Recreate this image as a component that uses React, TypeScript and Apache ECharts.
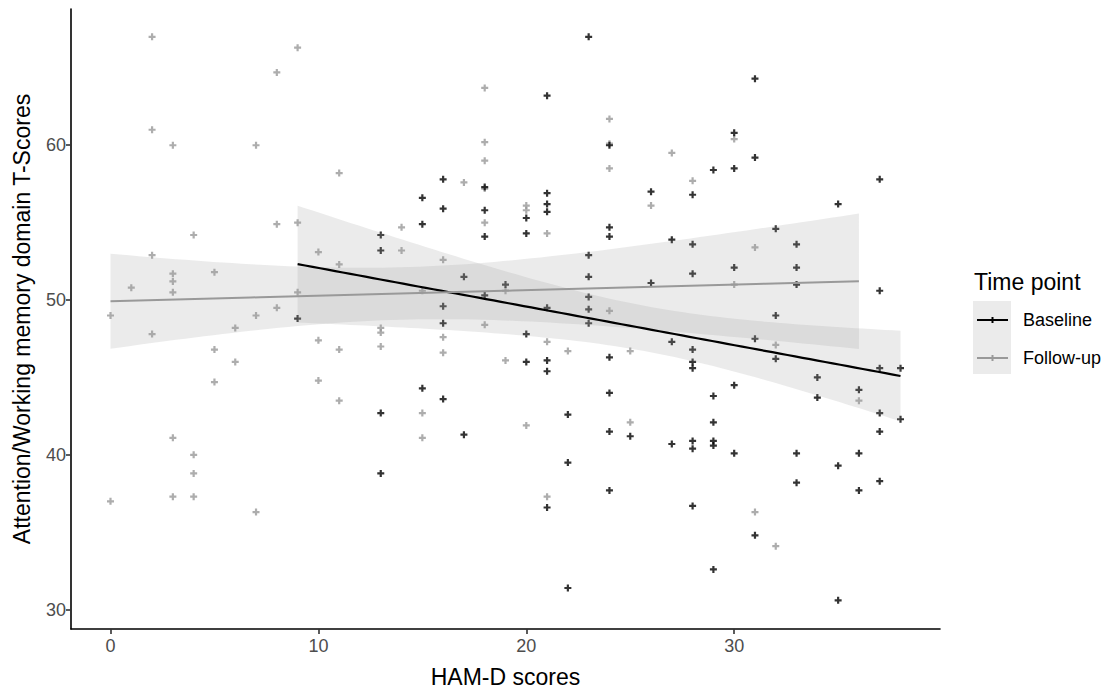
import React, { useEffect, useRef } from "react";
import * as echarts from "echarts";

const xTicks = [0, 10, 20, 30];
const yTicks = [30, 40, 50, 60];
const seriesNames = ["Baseline", "Follow-up"];
const xTitle = "HAM-D scores";
const yTitle = "Attention/Working memory domain T-Scores";
const legendTitle = "Time point";

const baselinePoints: number[][] = [
  [9, 48.8],
  [13, 54.2], [13, 53.2], [13, 42.7], [13, 38.8],
  [15, 56.6], [15, 54.9], [15, 44.3],
  [16, 57.8], [16, 55.9], [16, 49.6], [16, 48.5], [16, 43.6],
  [17, 51.5], [17, 41.3],
  [18, 57.3], [18, 55.8], [18, 54.1], [18, 50.3],
  [19, 51.0],
  [20, 55.3], [20, 54.3], [20, 47.8], [20, 46.0],
  [21, 63.2], [21, 56.9], [21, 56.2], [21, 55.7], [21, 49.5], [21, 46.1], [21, 45.4], [21, 36.6],
  [22, 42.6], [22, 39.5], [22, 31.4],
  [23, 67.0], [23, 52.9], [23, 51.5], [23, 50.2], [23, 49.4], [23, 48.5],
  [24, 60.0], [24, 54.7], [24, 54.1], [24, 46.3], [24, 44.0], [24, 41.5], [24, 37.7],
  [25, 41.2],
  [26, 57.0], [26, 51.1],
  [27, 53.9], [27, 47.3], [27, 40.7],
  [28, 56.8], [28, 53.6], [28, 51.7], [28, 46.8], [28, 46.0], [28, 45.6], [28, 40.9], [28, 40.4], [28, 36.7],
  [29, 58.4], [29, 43.8], [29, 42.1], [29, 40.9], [29, 40.6], [29, 32.6],
  [30, 60.8], [30, 58.5], [30, 52.1], [30, 44.5], [30, 40.1],
  [31, 64.3], [31, 59.2], [31, 47.5], [31, 34.8],
  [32, 54.6], [32, 49.0], [32, 46.2],
  [33, 53.6], [33, 52.1], [33, 51.0], [33, 40.1], [33, 38.2],
  [34, 45.0], [34, 43.7],
  [35, 56.2], [35, 39.3], [35, 30.6],
  [36, 44.2], [36, 40.1], [36, 37.7],
  [37, 57.8], [37, 50.6], [37, 45.6], [37, 42.7], [37, 41.5], [37, 38.3],
  [38, 45.6], [38, 42.3],
];

const followupPoints: number[][] = [
  [0, 49.0], [0, 37.0],
  [1, 50.8],
  [2, 67.0], [2, 61.0], [2, 52.9], [2, 47.8],
  [3, 60.0], [3, 51.7], [3, 51.2], [3, 50.5], [3, 41.1], [3, 37.3],
  [4, 54.2], [4, 40.0], [4, 38.8], [4, 37.3],
  [5, 51.8], [5, 46.8], [5, 44.7],
  [6, 48.2], [6, 46.0],
  [7, 60.0], [7, 49.0], [7, 36.3],
  [8, 64.7], [8, 54.9], [8, 49.5],
  [9, 66.3], [9, 55.0], [9, 50.5],
  [10, 53.1], [10, 47.4], [10, 44.8],
  [11, 58.2], [11, 52.3], [11, 46.8], [11, 43.5],
  [13, 48.2], [13, 47.9], [13, 47.0],
  [14, 54.7], [14, 53.2],
  [15, 50.6], [15, 42.7], [15, 41.1],
  [16, 52.6], [16, 47.6], [16, 46.6],
  [17, 57.6],
  [18, 63.7], [18, 60.2], [18, 59.0], [18, 57.2], [18, 55.0], [18, 48.4],
  [19, 50.6], [19, 46.1],
  [20, 56.1], [20, 55.8], [20, 41.9],
  [21, 54.3], [21, 47.3], [21, 37.3],
  [22, 46.7],
  [24, 61.7], [24, 60.1], [24, 58.5], [24, 49.3],
  [25, 46.7], [25, 42.1],
  [26, 56.1],
  [27, 59.5],
  [28, 57.7],
  [30, 60.4], [30, 51.0],
  [31, 53.4], [31, 36.3],
  [32, 47.1], [32, 34.1],
  [36, 43.5],
];

const PLUS = "path://M2.4,0H4.6V2.4H7V4.6H4.6V7H2.4V4.6H0V2.4H2.4Z";
const FONT = "'Liberation Sans', Arial, sans-serif";
const BLACK = "#000000";
const GREY = "#999999";
const BAND = "rgba(153,153,153,0.2)";

function tQuantile(df: number) {
  const z = 1.959964;
  return (
    z +
    (z ** 3 + z) / (4 * df) +
    (5 * z ** 5 + 16 * z ** 3 + 3 * z) / (96 * df * df)
  );
}

function linearFit(points: number[][]) {
  const n = points.length;
  const mx = points.reduce((s, p) => s + p[0], 0) / n;
  const my = points.reduce((s, p) => s + p[1], 0) / n;
  let sxx = 0, sxy = 0;
  points.forEach((p) => {
    sxx += (p[0] - mx) ** 2;
    sxy += (p[0] - mx) * (p[1] - my);
  });
  const b = sxy / sxx;
  const a = my - b * mx;
  let sse = 0;
  points.forEach((p) => {
    sse += (p[1] - a - b * p[0]) ** 2;
  });
  const s = Math.sqrt(sse / (n - 2));
  const t = tQuantile(n - 2);
  const xs = points.map((p) => p[0]);
  const x0 = Math.min(...xs);
  const x1 = Math.max(...xs);
  const line: number[][] = [];
  const upper: number[][] = [];
  const lower: number[][] = [];
  const steps = 80;
  for (let i = 0; i <= steps; i++) {
    const x = x0 + ((x1 - x0) * i) / steps;
    const y = a + b * x;
    const se = s * Math.sqrt(1 / n + (x - mx) ** 2 / sxx);
    line.push([x, y]);
    upper.push([x, y + t * se]);
    lower.push([x, y - t * se]);
  }
  return { line, upper, lower };
}

function bandSeries(fit: { upper: number[][]; lower: number[][] }) {
  return {
    type: "custom",
    silent: true,
    z: 3,
    data: [[0, 0]],
    renderItem: (_params: any, api: any) => {
      const pts = fit.upper
        .map((p) => api.coord(p))
        .concat(fit.lower.slice().reverse().map((p) => api.coord(p)));
      return {
        type: "polygon",
        shape: { points: pts },
        style: { fill: BAND, stroke: "none" },
      };
    },
  };
}

export default function App() {
  const ref = useRef<HTMLDivElement>(null);

  useEffect(() => {
    if (!ref.current) return;
    const chart = echarts.init(ref.current, undefined, { renderer: "svg" });
    const fitB = linearFit(baselinePoints);
    const fitF = linearFit(followupPoints);

    const axisCommon = {
      type: "value",
      axisLine: { show: true, onZero: false, lineStyle: { color: "#000", width: 1.6 } },
      splitLine: { show: false },
    };

    const plusAt = (cx: number, cy: number, color: string) => [
      { type: "line", shape: { x1: cx - 3, y1: cy, x2: cx + 3, y2: cy }, style: { stroke: color, lineWidth: 2 } },
      { type: "line", shape: { x1: cx, y1: cy - 3, x2: cx, y2: cy + 3 }, style: { stroke: color, lineWidth: 2 } },
    ];

    chart.setOption({
      animation: false,
      backgroundColor: "#ffffff",
      grid: { left: 71, right: 171, top: 9, bottom: 62, containLabel: false },
      xAxis: {
        ...axisCommon,
        min: -1.9,
        max: 39.9,
        axisTick: { show: true, length: 5, customValues: xTicks, lineStyle: { color: "#333", width: 1.6 } },
        axisLabel: { customValues: xTicks, color: "#4d4d4d", fontSize: 18, fontFamily: FONT, margin: 8 },
      },
      yAxis: {
        ...axisCommon,
        min: 28.75,
        max: 68.8,
        axisTick: { show: true, length: 5, customValues: yTicks, lineStyle: { color: "#333", width: 1.6 } },
        axisLabel: { customValues: yTicks, color: "#4d4d4d", fontSize: 18, fontFamily: FONT, margin: 5 },
      },
      series: [
        {
          name: seriesNames[1],
          type: "scatter",
          data: followupPoints,
          symbol: PLUS,
          symbolSize: 7,
          itemStyle: { color: GREY },
          z: 1,
        },
        {
          name: seriesNames[0],
          type: "scatter",
          data: baselinePoints,
          symbol: PLUS,
          symbolSize: 7,
          itemStyle: { color: BLACK },
          z: 2,
        },
        bandSeries(fitB),
        bandSeries(fitF),
        {
          type: "line",
          data: fitB.line,
          showSymbol: false,
          lineStyle: { color: BLACK, width: 2.2 },
          z: 5,
          silent: true,
        },
        {
          type: "line",
          data: fitF.line,
          showSymbol: false,
          lineStyle: { color: GREY, width: 2 },
          z: 5,
          silent: true,
        },
      ],
      graphic: [
        {
          type: "text",
          x: 505.5,
          y: 677,
          style: { text: xTitle, fontSize: 23, fontFamily: FONT, fill: "#000", align: "center", verticalAlign: "middle" },
        },
        {
          type: "text",
          x: 22,
          y: 319,
          rotation: Math.PI / 2,
          style: { text: yTitle, fontSize: 23, fontFamily: FONT, fill: "#000", align: "center", verticalAlign: "middle" },
        },
        {
          type: "text",
          x: 974,
          y: 282,
          style: { text: legendTitle, fontSize: 23, fontFamily: FONT, fill: "#000", align: "left", verticalAlign: "middle" },
        },
        { type: "rect", shape: { x: 973, y: 301, width: 38, height: 73 }, style: { fill: "#ebebeb" } },
        { type: "line", shape: { x1: 977, y1: 320, x2: 1008, y2: 320 }, style: { stroke: BLACK, lineWidth: 2 } },
        ...plusAt(992.5, 320, BLACK),
        { type: "line", shape: { x1: 977, y1: 358, x2: 1008, y2: 358 }, style: { stroke: GREY, lineWidth: 2 } },
        ...plusAt(992.5, 358, GREY),
        {
          type: "text",
          x: 1023,
          y: 320,
          style: { text: seriesNames[0], fontSize: 18, fontFamily: FONT, fill: "#000", align: "left", verticalAlign: "middle" },
        },
        {
          type: "text",
          x: 1023,
          y: 358,
          style: { text: seriesNames[1], fontSize: 18, fontFamily: FONT, fill: "#000", align: "left", verticalAlign: "middle" },
        },
      ],
    });
    return () => chart.dispose();
  }, []);

  return (
    <div
      ref={ref}
      style={{ position: "fixed", left: 0, top: 0, width: 1111, height: 691, background: "#fff" }}
    />
  );
}
